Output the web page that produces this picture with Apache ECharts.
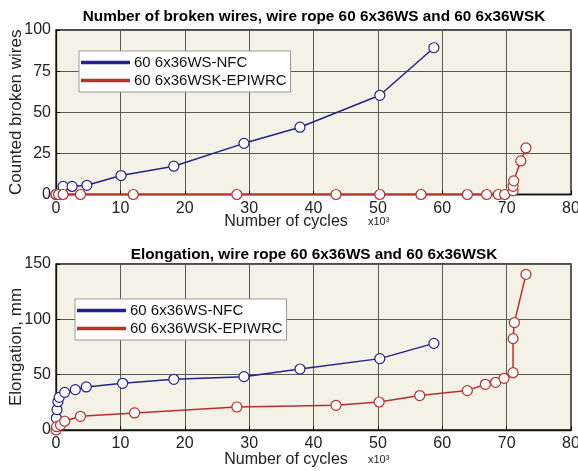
<!DOCTYPE html>
<html>
<head>
<meta charset="utf-8">
<script src="https://cdn.jsdelivr.net/npm/echarts@6/dist/echarts.min.js"></script>
<style>
html,body{margin:0;padding:0;background:#fff;}
#c{width:578px;height:471px;}
</style>
</head>
<body>
<div id="c"></div>
<script>
// ---- data (cycles in thousands) ----
var seriesNames = ['60 6x36WS-NFC', '60 6x36WSK-EPIWRC'];

var brokenNfcX = [0, 1.1, 2.5, 4.8, 10.1, 18.3, 29.2, 37.9, 50.3, 58.7];
var brokenNfcY = [0, 4.9, 4.9, 5.6, 11.5, 17.2, 31.1, 40.9, 60.3, 89.2];

var brokenEpiX = [0, 0.4, 1.1, 3.8, 12.0, 28.1, 43.5, 50.3, 56.7, 63.9, 66.9, 68.7, 69.7, 71.0, 71.0, 71.1, 72.2, 73.0];
var brokenEpiY = [0, 0, 0, 0, 0, 0, 0, 0, 0, 0, 0, 0, 0, 2.2, 5.0, 8.3, 20.4, 28.3];

var elongNfcX = [0.05, 0.15, 0.3, 0.5, 1.35, 3.0, 4.7, 10.35, 18.3, 29.2, 37.9, 50.3, 58.7];
var elongNfcY = [10.8, 18.4, 25.6, 29.5, 34.0, 36.5, 38.9, 42.2, 45.8, 48.2, 55.1, 64.5, 78.3];

var elongEpiX = [0, 0.1, 0.7, 1.35, 3.8, 12.2, 28.1, 43.5, 50.2, 56.5, 63.9, 66.7, 68.3, 69.6, 71.0, 71.0, 71.2, 73.0];
var elongEpiY = [0, 3.0, 4.5, 7.9, 12.4, 15.4, 20.8, 22.3, 25.3, 31.1, 35.6, 41.3, 43.1, 46.7, 51.8, 82.6, 97.0, 140.6];

var xTicks = [0, 10, 20, 30, 40, 50, 60, 70, 80];
var brokenTicks = [0, 25, 50, 75, 100];
var elongTicks = [0, 50, 100, 150];

var titles = ['Number of broken wires, wire rope 60 6x36WS and 60 6x36WSK',
              'Elongation, wire rope 60 6x36WS and 60 6x36WSK'];
var yNames = ['Counted broken wires', 'Elongation, mm'];
var xName = 'Number of cycles';
var xScaleNote = 'x10³';

// ---- styling ----
var BLUE = '#23238e';
var RED = '#b8302c';
var BG = '#f4f1e6';
var GRIDC = '#5a5a55';
var FONT = 'Liberation Sans, Arial, sans-serif';

function zip(xs, ys){ return xs.map(function(x,i){ return [x, ys[i]]; }); }

function xAxis(gi){
  return {
    type:'value', gridIndex:gi, min:xTicks[0], max:xTicks[xTicks.length-1], interval:10,
    axisLine:{show:true, onZero:false, lineStyle:{color:'#111', width:1.3}},
    axisTick:{show:true, inside:true, length:4, lineStyle:{color:'#111'}},
    splitLine:{show:true, lineStyle:{color:GRIDC, width:1}},
    axisLabel:{color:'#222', fontSize:16, fontFamily:FONT, margin:6}
  };
}
function yAxis(gi, ticks){
  return {
    type:'value', gridIndex:gi, min:ticks[0], max:ticks[ticks.length-1], interval:ticks[1]-ticks[0],
    axisLine:{show:true, lineStyle:{color:'#111', width:1.3}},
    axisTick:{show:true, inside:true, length:4, lineStyle:{color:'#111'}},
    splitLine:{show:true, lineStyle:{color:GRIDC, width:1}},
    axisLabel:{color:'#222', fontSize:16, fontFamily:FONT, margin:5},
    name: yNames[gi], nameLocation:'middle', nameGap:31, nameRotate:90, nameMoveOverlap:false,
    nameTextStyle:{color:'#222', fontSize:17, fontFamily:FONT}
  };
}
function ser(name, color, data, gi){
  return {
    name:name, type:'line', xAxisIndex:gi, yAxisIndex:gi, data:data,
    symbol:'circle', symbolSize:10, showSymbol:true,
    lineStyle:{color:color, width:1.5},
    itemStyle:{color:'#fff', borderColor:color, borderWidth:1.2},
    emphasis:{disabled:true}, animation:false, z:3
  };
}
function legend(left, top){
  return {
    orient:'vertical', left:left, top:top,
    backgroundColor:'#fff', borderColor:'#999', borderWidth:1,
    padding:[4,4,4,2], itemGap:3, itemWidth:47, itemHeight:1.5, itemTextGap:2,
    icon:'rect', selectedMode:false,
    textStyle:{color:'#111', fontSize:15, fontFamily:FONT},
    data:[{name:seriesNames[0], itemStyle:{color:BLUE}}, {name:seriesNames[1], itemStyle:{color:RED}}]
  };
}
function txt(text, left, top, size, bold, align){
  return {text:text, left:left, top:top, textAlign:align || 'left', padding:0,
    textStyle:{fontSize:size, fontWeight:bold ? 'bold' : 'normal', color: bold ? '#000' : '#222', fontFamily:FONT}};
}

var chart = echarts.init(document.getElementById('c'), null, {renderer:'canvas'});
chart.setOption({
  backgroundColor:'#fff',
  animation:false,
  title:[
    txt(titles[0], 314, 9, 15.3, true, 'center'),
    txt(titles[1], 314, 247, 15.3, true, 'center'),
    txt(xName, 286, 214, 16, false, 'center'),
    txt(xName, 286, 452, 16, false, 'center'),
    txt(xScaleNote, 368, 216, 11, false),
    txt(xScaleNote, 368, 454, 11, false)
  ],
  grid:[
    {left:56, right:7, top:30, height:164.5, show:true, backgroundColor:BG, borderColor:'#111', borderWidth:1.3, containLabel:false, outerBoundsMode:'none'},
    {left:56, right:7, top:264, height:166, show:true, backgroundColor:BG, borderColor:'#111', borderWidth:1.3, containLabel:false, outerBoundsMode:'none'}
  ],
  legend:[legend(79, 51), legend(75, 299)],
  xAxis:[xAxis(0), xAxis(1)],
  yAxis:[yAxis(0, brokenTicks), yAxis(1, elongTicks)],
  series:[
    ser(seriesNames[0], BLUE, zip(brokenNfcX, brokenNfcY), 0),
    ser(seriesNames[1], RED, zip(brokenEpiX, brokenEpiY), 0),
    ser(seriesNames[0], BLUE, zip(elongNfcX, elongNfcY), 1),
    ser(seriesNames[1], RED, zip(elongEpiX, elongEpiY), 1)
  ]
});
</script>
</body>
</html>
